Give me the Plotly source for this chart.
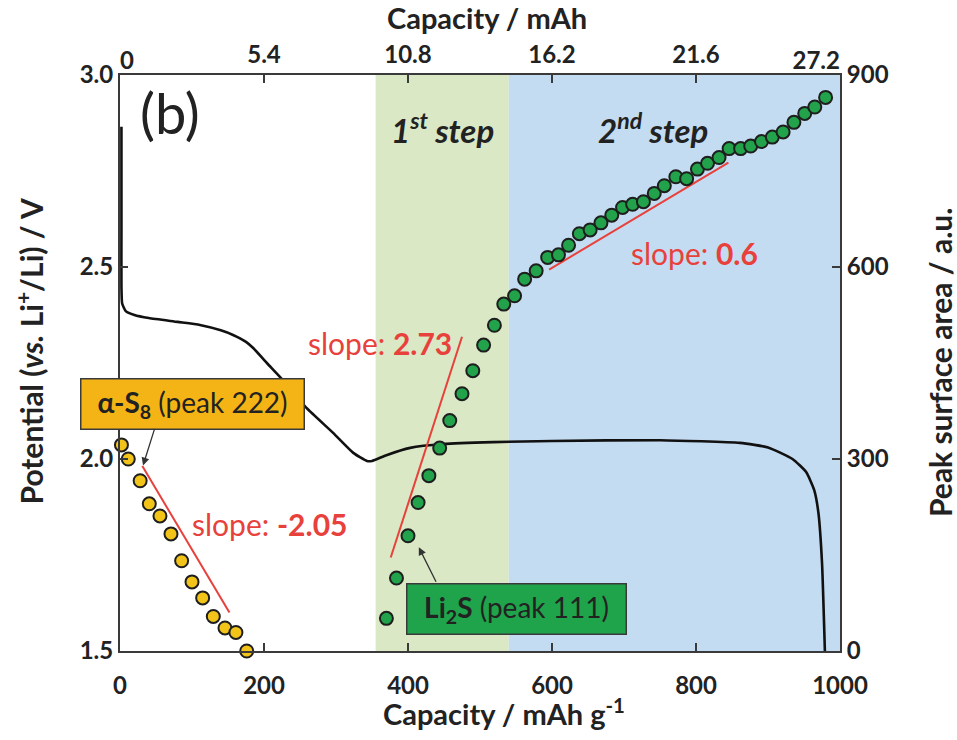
import plotly.graph_objects as go

# Discharge curve: capacity (mAh g-1) vs potential (V vs Li+/Li)
curve_capacity = [2, 2, 2, 3, 8, 20, 40, 80, 111, 140, 157, 175, 185, 204, 226, 259,
                  296, 324, 343, 350, 370, 403, 449, 518, 600, 750, 861, 900, 934,
                  953, 964, 970, 975, 979]
curve_potential = [2.865, 2.60, 2.45, 2.405, 2.385, 2.375, 2.367, 2.357, 2.349, 2.335,
                   2.323, 2.305, 2.289, 2.25, 2.206, 2.133, 2.068, 2.016, 1.995, 1.995,
                   2.01, 2.029, 2.039, 2.044, 2.047, 2.049, 2.042, 2.03, 2.0, 1.966,
                   1.92, 1.86, 1.73, 1.5]

# alpha-S8 (peak 222) surface area
s8_capacity = [2, 11.5, 28, 40.7, 55.5, 70.8, 85.6, 100, 114.8, 129.6, 145.8, 161, 176]
s8_area = [322, 300, 266, 230, 211, 183, 141, 108, 83, 54, 36, 29, 0]

# Li2S (peak 111) surface area
li2s_capacity = [370, 384, 400, 414, 429, 444, 458, 475, 490, 505, 520, 533, 548, 562,
                 578, 594, 609, 623, 638, 653, 668, 683, 698, 712, 727, 742, 756, 772,
                 787, 802, 816, 832, 846, 862, 876, 891, 906, 921, 936, 951, 965, 980]
li2s_area = [51, 114, 180, 232, 274, 317, 360, 402, 438, 478, 509, 542, 555, 581,
             594, 615, 619, 634, 652, 658, 669, 681, 693, 698, 702, 715, 727, 741,
             738, 753, 762, 771, 785, 785, 789, 796, 803, 811, 826, 840, 850, 865]

# Linear-fit guide segments (capacity, area)
fit_s8_x, fit_s8_y = [31, 152], [289, 60]
fit_step1_x, fit_step1_y = [376, 475], [146, 491]
fit_step2_x, fit_step2_y = [596, 845], [596, 763]

# Reaction step regions (capacity)
step1_range = [355, 540]
step2_range = [540, 1000]

# Axis ticks
bottom_ticks = [0, 200, 400, 600, 800, 1000]
top_inner_ticks = [200, 400, 600, 800]
top_inner_labels = ["5.4", "10.8", "16.2", "21.6"]
top_first_tick, top_first_label = [0], ["0"]
top_last_tick, top_last_label = [1000], ["27.2"]
left_ticks = [1.5, 2.0, 2.5, 3.0]
right_ticks = [0, 300, 600, 900]

FONT = "Lato"
DARK = "#222222"
RED = "#e8413c"
AXIS = "#3a3a3a"

fig = go.Figure()

fig.add_trace(go.Scatter(
    x=curve_capacity, y=curve_potential, mode="lines",
    line=dict(color="#111111", width=2.6, shape="spline", smoothing=0.5),
    xaxis="x", yaxis="y", showlegend=False, hoverinfo="skip"))

for fx, fy in [(fit_s8_x, fit_s8_y), (fit_step1_x, fit_step1_y), (fit_step2_x, fit_step2_y)]:
    fig.add_trace(go.Scatter(
        x=fx, y=fy, mode="lines", line=dict(color=RED, width=2),
        xaxis="x", yaxis="y2", showlegend=False, hoverinfo="skip"))

fig.add_trace(go.Scatter(
    x=s8_capacity, y=s8_area, mode="markers",
    marker=dict(size=13, color="#f2c41a", line=dict(color="#1e1e1e", width=2)),
    xaxis="x", yaxis="y2", showlegend=False, cliponaxis=False))

fig.add_trace(go.Scatter(
    x=li2s_capacity, y=li2s_area, mode="markers",
    marker=dict(size=13, color="#22a24a", line=dict(color="#1e1e1e", width=2)),
    xaxis="x", yaxis="y2", showlegend=False, cliponaxis=False))

# empty traces so the extra top axes are laid out
for ax in ["x2", "x3", "x4"]:
    fig.add_trace(go.Scatter(x=[0, 1000], y=[None, None], xaxis=ax, yaxis="y",
                             showlegend=False, hoverinfo="skip"))

# shaded step regions
fig.add_shape(type="rect", xref="x", yref="paper", x0=step1_range[0], x1=step1_range[1],
              y0=0, y1=1, fillcolor="#dae8c5", line=dict(width=0), layer="below")
fig.add_shape(type="rect", xref="x", yref="paper", x0=step2_range[0], x1=step2_range[1],
              y0=0, y1=1, fillcolor="#c4dcf1", line=dict(width=0), layer="below")

tickfont = dict(family=FONT, size=24, color=DARK, weight="bold")
axis_common = dict(showgrid=False, zeroline=False, showline=True, linecolor=AXIS,
                   linewidth=2, ticks="inside", tickcolor=AXIS, tickwidth=1.5,
                   ticklen=8, tickfont=tickfont)
label_only = dict(showgrid=False, zeroline=False, showline=False, ticks="",
                  tickfont=tickfont, overlaying="x", side="top", range=[0, 1000])

fig.update_layout(
    width=957, height=740,
    margin=dict(l=120, r=117, t=75, b=89),
    paper_bgcolor="white", plot_bgcolor="white",
    font=dict(family=FONT, color=DARK),
    xaxis=dict(range=[0, 1000], tickvals=bottom_ticks, ticklabelstandoff=12,
               **axis_common),
    xaxis2=dict(range=[0, 1000], overlaying="x", side="top", tickvals=top_inner_ticks,
                ticktext=top_inner_labels, **axis_common),
    xaxis3=dict(tickvals=top_first_tick, ticktext=top_first_label,
                ticklabelposition="outside right", **label_only),
    xaxis4=dict(tickvals=top_last_tick, ticktext=top_last_label,
                ticklabelposition="outside left", **label_only),
    yaxis=dict(range=[1.5, 3.0], tickvals=left_ticks, tickformat=".1f", **axis_common),
    yaxis2=dict(range=[0, 900], overlaying="y", side="right", tickvals=right_ticks,
                **axis_common),
)

title_font = dict(family=FONT, size=29, color=DARK)
slope_font = dict(family=FONT, size=30, color=RED)
step_font = dict(family=FONT, size=33, color=DARK)
box_font = dict(family=FONT, size=28, color=DARK)
annotations = [
    dict(text="<b>Capacity / mAh</b>", xref="paper", yref="paper", x=0.51, y=1,
         yshift=58, xanchor="center", yanchor="middle", font=title_font, showarrow=False),
    dict(text="<b>Capacity / mAh g<sup>-1</sup></b>", xref="paper", yref="paper", x=0.533,
         y=0, yshift=-61, xanchor="center", yanchor="middle", font=title_font,
         showarrow=False),
    dict(text="<b>Potential (<i>vs.</i> Li<sup>+</sup>/Li) / V</b>", xref="paper",
         yref="paper", x=0, xshift=-90, y=0.52, textangle=-90, xanchor="center",
         yanchor="middle", font=dict(family=FONT, size=30, color=DARK), showarrow=False),
    dict(text="<b>Peak surface area / a.u.</b>", xref="paper", yref="paper", x=1,
         xshift=100, y=0.5, textangle=-90, xanchor="center", yanchor="middle",
         font=dict(family=FONT, size=30, color=DARK), showarrow=False),
    dict(text="(b)", xref="paper", yref="paper", x=0.0694, y=0.935, xanchor="center",
         yanchor="middle", font=dict(family=FONT, size=56, color=DARK), showarrow=False),
    dict(text="<b><i>1<sup>st</sup> step</i></b>", xref="x", yref="paper", x=447.5,
         y=0.908, xanchor="center", yanchor="middle", font=step_font, showarrow=False),
    dict(text="<b><i>2<sup>nd</sup> step</i></b>", xref="x", yref="paper", x=740,
         y=0.908, xanchor="center", yanchor="middle", font=step_font, showarrow=False),
    dict(text="slope: <b>0.6</b>", xref="x", yref="paper", x=798, y=0.691,
         xanchor="center", yanchor="middle", font=slope_font, showarrow=False),
    dict(text="slope: <b>2.73</b>", xref="x", yref="paper", x=361, y=0.535,
         xanchor="center", yanchor="middle", font=slope_font, showarrow=False),
    dict(text="slope: <b>-2.05</b>", xref="x", yref="paper", x=208, y=0.22,
         xanchor="center", yanchor="middle", font=slope_font, showarrow=False),
    # label boxes
    dict(text="<b>α-S<sub>8</sub></b> (peak 222)", xref="paper", yref="paper",
         x=0.1007, y=0.4288, xanchor="center", yanchor="middle", width=222, height=49,
         bgcolor="#f5b416", bordercolor="#3a3a3a", borderwidth=1.5, borderpad=0,
         font=box_font, showarrow=False),
    dict(text="<b>Li<sub>2</sub>S</b> (peak 111)", xref="paper", yref="paper",
         x=0.551, y=0.0729, xanchor="center", yanchor="middle", width=218, height=49,
         bgcolor="#1fa44c", bordercolor="#3a3a3a", borderwidth=1.5, borderpad=0,
         font=box_font, showarrow=False),
    # pointer arrows
    dict(text="", xref="x", yref="y2", x=32, y=290, ax=12, ay=-38, showarrow=True,
         arrowhead=2, arrowsize=1.2, arrowwidth=1.3, arrowcolor="#333333"),
    dict(text="", xref="x", yref="y2", x=415, y=162, ax=18, ay=36, showarrow=True,
         arrowhead=2, arrowsize=1.2, arrowwidth=1.3, arrowcolor="#333333"),
]
fig.update_layout(annotations=annotations)

fig.write_html("out.html")
